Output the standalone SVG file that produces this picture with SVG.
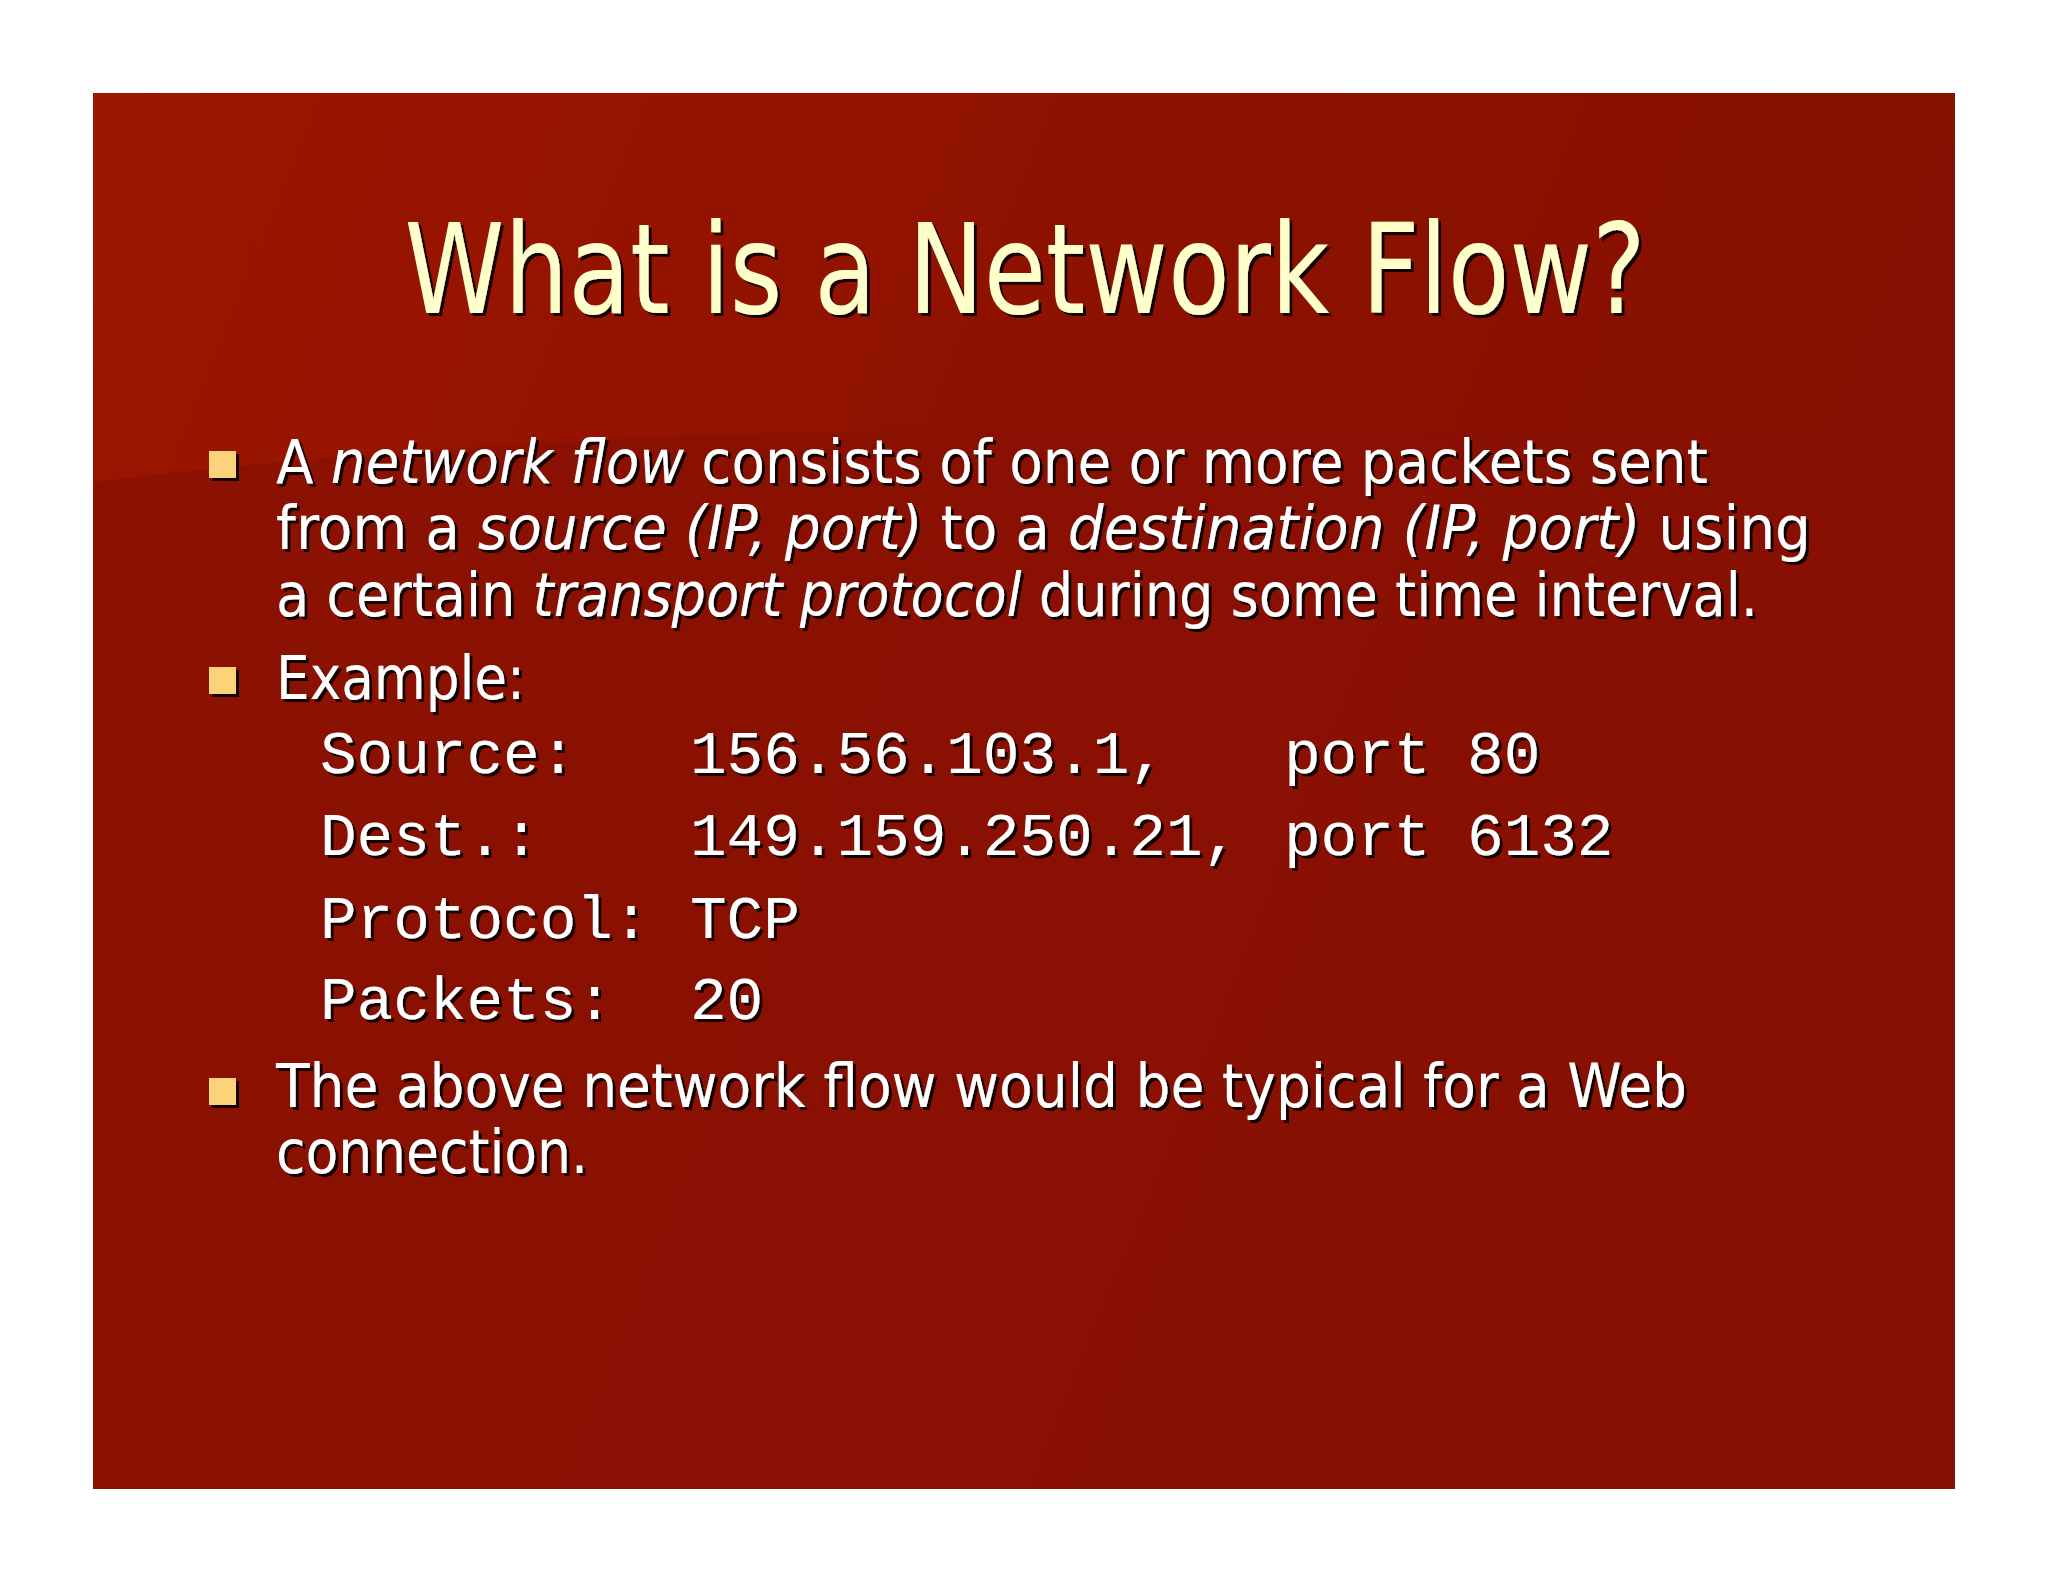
<svg xmlns="http://www.w3.org/2000/svg" width="2048" height="1582" viewBox="0 0 2048 1582">
<defs>
<linearGradient id="bg" x1="0" y1="0" x2="1" y2="0.3">
<stop offset="0" stop-color="#9c1600"/>
<stop offset="0.6" stop-color="#8c1100"/>
<stop offset="1" stop-color="#861002"/>
</linearGradient>
<filter id="sh" x="-5%" y="-20%" width="110%" height="140%">
<feDropShadow dx="3" dy="3" stdDeviation="0.5" flood-color="#000" flood-opacity="0.85"/>
</filter>
</defs>
<style>
.b{font-family:"DejaVu Sans Condensed","DejaVu Sans",sans-serif;font-size:60px;fill:#fff}
.m{font-family:"Liberation Mono",monospace;font-size:61px;fill:#fff}
.bul{fill:#fcd27a}
</style>
<rect x="0" y="0" width="2048" height="1582" fill="#fff"/>
<rect x="93" y="93" width="1862" height="1396" fill="url(#bg)"/>
<path d="M93 482 Q600 420 1300 430 L1955 440 L1955 1489 L93 1489 Z" fill="#881002" opacity="0.8"/>
<g filter="url(#sh)">
<text x="1025" y="313" text-anchor="middle" textLength="1241" lengthAdjust="spacingAndGlyphs" style="font-family:'DejaVu Sans Condensed','DejaVu Sans',sans-serif;font-size:124px;fill:#ffffcc">What is a Network Flow?</text>
<rect class="bul" x="209" y="451" width="27" height="27"/>
<rect class="bul" x="209" y="667" width="27" height="27"/>
<rect class="bul" x="209" y="1078" width="27" height="27"/>
<text class="b" x="276" y="483" textLength="1432" lengthAdjust="spacingAndGlyphs">A <tspan font-style="italic">network flow</tspan> consists of one or more packets sent</text>
<text class="b" x="276" y="549" textLength="1535" lengthAdjust="spacingAndGlyphs">from a <tspan font-style="italic">source (IP, port)</tspan> to a <tspan font-style="italic">destination (IP, port)</tspan> using</text>
<text class="b" x="276" y="616" textLength="1482" lengthAdjust="spacingAndGlyphs">a certain <tspan font-style="italic">transport protocol</tspan> during some time interval.</text>
<text class="b" x="276" y="699" textLength="249" lengthAdjust="spacingAndGlyphs">Example:</text>
<text class="m" x="320" y="773">Source:</text><text class="m" x="690" y="773">156.56.103.1,</text><text class="m" x="1284" y="773">port 80</text>
<text class="m" x="320" y="855">Dest.:</text><text class="m" x="690" y="855">149.159.250.21,</text><text class="m" x="1284" y="855">port 6132</text>
<text class="m" x="320" y="938">Protocol:</text><text class="m" x="690" y="938">TCP</text>
<text class="m" x="320" y="1019">Packets:</text><text class="m" x="690" y="1019">20</text>
<text class="b" x="276" y="1107" textLength="1411" lengthAdjust="spacingAndGlyphs">The above network flow would be typical for a Web</text>
<text class="b" x="276" y="1173" textLength="312" lengthAdjust="spacingAndGlyphs">connection.</text>
</g>
</svg>
